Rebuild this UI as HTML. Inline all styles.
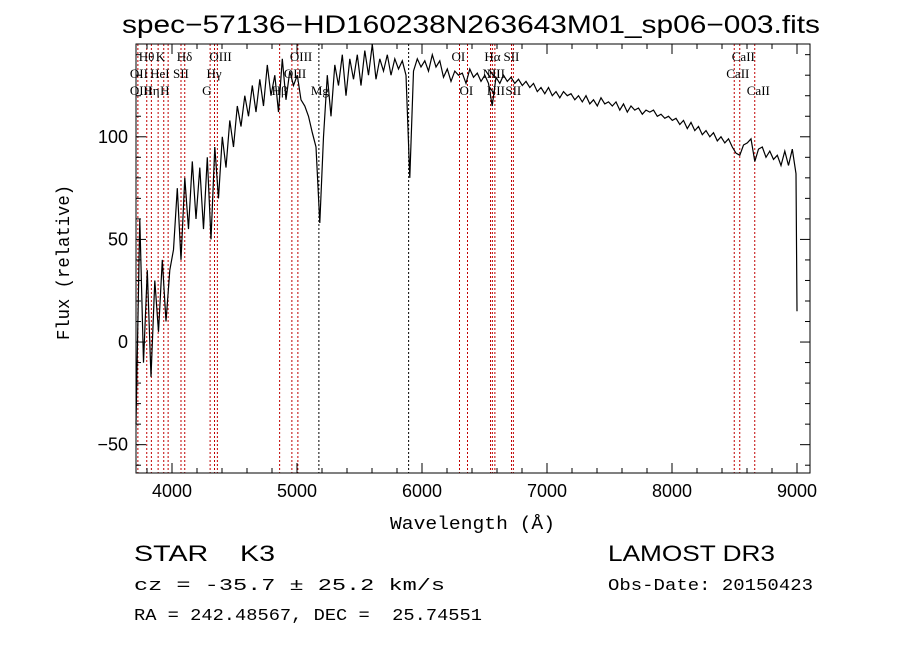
<!DOCTYPE html>
<html><head><meta charset="utf-8"><style>
body{margin:0;background:#fff;}
svg{display:block;}
text{fill:#000;white-space:pre;}
</style></head><body>
<svg id="chart" width="900" height="649" viewBox="0 0 900 649" xmlns="http://www.w3.org/2000/svg" xml:space="preserve">
<rect width="900" height="649" fill="#fff"/>
<text x="122" y="33" font-family="Liberation Sans, sans-serif" font-size="25" textLength="698" lengthAdjust="spacingAndGlyphs">spec−57136−HD160238N263643M01_sp06−003.fits</text>
<g id="lines"></g>
<g id="linelabels" font-family="Liberation Serif, serif" font-size="13"></g>
<path id="spec" fill="none" stroke="#000" stroke-width="1.2"/>
<g id="axes"></g>
<text x="390" y="529" font-family="Liberation Mono, monospace" font-size="18" textLength="165" lengthAdjust="spacingAndGlyphs">Wavelength (Å)</text>
<text transform="translate(69,340) rotate(-90)" font-family="Liberation Mono, monospace" font-size="18" textLength="155" lengthAdjust="spacingAndGlyphs">Flux (relative)</text>
<text x="134" y="561" font-family="Liberation Sans, sans-serif" font-size="22" textLength="141" lengthAdjust="spacingAndGlyphs">STAR    K3</text>
<text x="134" y="590" font-family="Liberation Mono, monospace" font-size="17" textLength="311" lengthAdjust="spacingAndGlyphs">cz = -35.7 ± 25.2 km/s</text>
<text x="134" y="620" font-family="Liberation Mono, monospace" font-size="17" textLength="348" lengthAdjust="spacingAndGlyphs">RA = 242.48567, DEC =  25.74551</text>
<text x="608" y="561" font-family="Liberation Sans, sans-serif" font-size="22" textLength="167" lengthAdjust="spacingAndGlyphs">LAMOST DR3</text>
<text x="608" y="590" font-family="Liberation Mono, monospace" font-size="17" textLength="205" lengthAdjust="spacingAndGlyphs">Obs-Date: 20150423</text>
</svg>
<script>
const wlStart = 3712;
const wlStep = 30;
const flux = [-40,60,-10,35,-17,30,5,40,10,35,45,75,40,80,55,88,60,85,55,90,50,95,70,100,85,108,95,115,105,120,110,125,112,128,115,135,120,130,112,138,118,132,125,130,118,115,110,102,95,58,100,130,110,135,125,140,120,138,128,140,125,142,130,145,128,138,132,140,130,138,133,137,130,80,132,138,134,137,132,140,134,137,129,133,127,132,130,131,126,133,129,131,127,130,126,115,129,126,130,127,129,126,128,125,127,124,126,122,124,121,124,120,122,119,122,120,121,118,120,117,120,116,118,115,119,116,117,115,117,113,116,112,115,113,114,111,113,112,113,110,111,109,110,108,109,106,108,104,107,103,105,101,103,100,102,98,100,97,99,95,92,91,96,97,99,88,94,95,90,93,89,91,86,93,86,94,82];
const endWl = [9000];
const endFlux = [15];
const lineWl = [3727,3798,3835,3889,3934,3969,4072,4102,4305,4340,4363,4861,4959,5007,5175,5893,6300,6364,6548,6563,6583,6716,6731,8498,8542,8662];
const lineColor = ["r","r","r","r","r","r","r","r","r","r","r","r","r","r","k","k","r","r","r","r","r","r","r","r","r","r"];
const labelText = ["Hθ","K","Hδ","OIII","OIII","OI","Hα","SII","CaII","OII","HeI","SII","Hγ","OIII","NII","NII","CaII","OIII","Hη","H","G","Hβ","Mg","OI","NII","SII","CaII"];
const labelWl = [3798,3934,4102,4363,5007,6300,6563,6716,8542,3727,3889,4072,4340,4959,6548,6583,8498,3727,3835,3969,4305,4861,5175,6364,6583,6731,8662];
const labelRow = [0,0,0,0,0,0,0,0,0,1,1,1,1,1,1,1,1,2,2,2,2,2,2,2,2,2,2];
const xTicks = [4000,5000,6000,7000,8000,9000];
const yTicks = [-50,0,50,100];

const X0=136,X1=810,Y0=44,Y1=473;
const xmin=3712,xmax=9104,ymin=-63.8,ymax=145.2;
const xs=w=>X0+(w-xmin)/(xmax-xmin)*(X1-X0);
const ys=v=>Y1-(v-ymin)/(ymax-ymin)*(Y1-Y0);
const NS="http://www.w3.org/2000/svg";
function mk(tag,attrs,parent){const e=document.createElementNS(NS,tag);for(const k in attrs)e.setAttribute(k,attrs[k]);parent.appendChild(e);return e;}

const lg=document.getElementById('lines');
lineWl.forEach((w,i)=>{
  const l=mk('line',{x1:xs(w),x2:xs(w),y1:Y0,y2:Y1,stroke:lineColor[i]==='r'?'#c00000':'#000','stroke-width':1,'stroke-dasharray':'2,2'},lg);
  
  
});
const ll=document.getElementById('linelabels');
labelText.forEach((t,i)=>{
  const e=mk('text',{x:xs(labelWl[i])-8,y:61+labelRow[i]*17},ll);
  e.textContent=t;
  
  
});

let d='';
flux.forEach((v,i)=>{const w=wlStart+i*wlStep;d+=(i?'L':'M')+xs(Math.min(w,9000)).toFixed(1)+','+ys(v).toFixed(1);});
endWl.forEach((w,i)=>{d+='L'+xs(w).toFixed(1)+','+ys(endFlux[i]).toFixed(1);});
document.getElementById('spec').setAttribute('d',d);

const ax=document.getElementById('axes');
const fr=mk('rect',{x:X0,y:Y0,width:X1-X0,height:Y1-Y0,fill:'none',stroke:'#000','stroke-width':1},ax);


for(let w=3800;w<=9100;w+=200){
  const maj=w%1000===0, L=maj?10:5, x=xs(w);
  mk('line',{x1:x,x2:x,y1:Y1,y2:Y1-L,stroke:'#000'},ax);
  mk('line',{x1:x,x2:x,y1:Y0,y2:Y0+L,stroke:'#000'},ax);
}
xTicks.forEach(w=>{
  const t=mk('text',{x:xs(w),y:Y1+24,'font-family':'Liberation Sans, sans-serif','font-size':18,'text-anchor':'middle'},ax);
  t.textContent=w;
  
  
});
for(let v=-60;v<=140;v+=10){
  const maj=v%50===0, L=maj?10:5, y=ys(v);
  mk('line',{x1:X0,x2:X0+L,y1:y,y2:y,stroke:'#000'},ax);
  mk('line',{x1:X1,x2:X1-L,y1:y,y2:y,stroke:'#000'},ax);
}
yTicks.forEach(v=>{
  const t=mk('text',{x:X0-8,y:ys(v)+6,'font-family':'Liberation Sans, sans-serif','font-size':18,'text-anchor':'end'},ax);
  t.textContent=v<0?'−'+(-v):v;
  
  
});
</script>
</body></html>
